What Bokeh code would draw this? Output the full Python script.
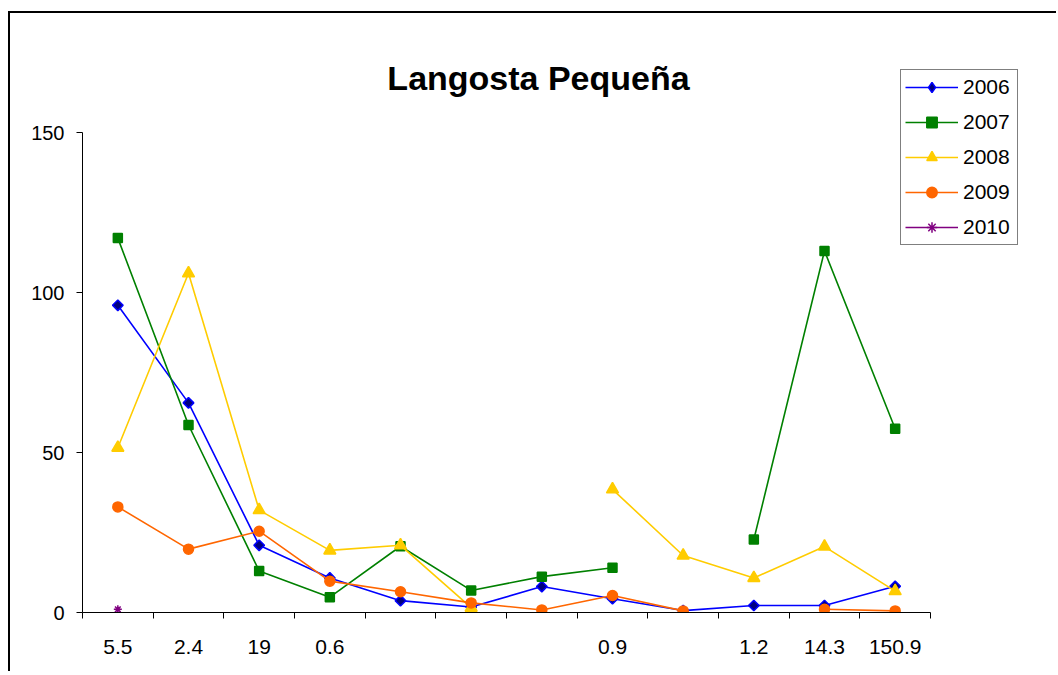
import numpy as np
from bokeh.plotting import figure
from bokeh.models import (Range1d, FixedTicker, Legend, LegendItem, Label, ColumnDataSource)
from bokeh.embed import file_html
from bokeh.resources import INLINE

nan = float("nan")

categories = ["5.5", "2.4", "19", "0.6", "", "", "", "0.9", "", "1.2", "14.3", "150.9"]
y2006 = [96, 65.5, 21, 10.8, 3.7, 1.7, 8.1, 4.3, 0.6, 2.2, 2.2, 8.2]
y2007 = [117, 58.6, 13, 4.8, 20.7, 6.9, 11.2, 14, nan, 22.8, 113, 57.4]
y2008 = [51.5, 106, 32, 19.4, 21, 1.5, nan, 38.5, 17.8, 10.8, 20.6, 6.7]
y2009 = [33, 19.8, 25.4, 9.8, 6.5, 3.0, 0.8, 5.3, 0.5, nan, 1.0, 0.5]
y2010 = [1, nan, nan, nan, nan, nan, nan, nan, nan, nan, nan, nan]
title_text = "Langosta Pequeña"
series_names = ["2006", "2007", "2008", "2009", "2010"]
y_ticks = [0, 50, 100, 150]

FONT = "Liberation Sans"
n = len(categories)
xs = list(range(1, n + 1))

# layout (pixels)
CANVAS_W, CANVAS_H = 1048, 660
AXIS_W = 848          # width of the category axis
AXIS_H = 480          # height of the value axis (0..150)
FRAME_L, FRAME_T = 72, 39
FRAME_W, FRAME_H = 958, 560
ppx = AXIS_W / n                      # px per category
ppy = AXIS_H / y_ticks[-1]            # px per unit
x_end = 0.5 + FRAME_W / ppx
y_end = FRAME_H / ppy

p = figure(width=CANVAS_W, height=CANVAS_H, output_backend="svg", toolbar_location=None,
           x_range=Range1d(0.5, x_end), y_range=Range1d(0, y_end),
           min_border_left=FRAME_L, min_border_right=CANVAS_W - FRAME_L - FRAME_W,
           min_border_top=FRAME_T, min_border_bottom=CANVAS_H - FRAME_T - FRAME_H)
p.styles = {"border-left": "2px solid black", "border-top": "2px solid black",
            "margin-top": "11px", "margin-left": "8px"}
p.outline_line_color = None
p.xgrid.grid_line_color = None
p.ygrid.grid_line_color = None
p.background_fill_color = "white"
p.border_fill_color = "white"

# x axis
p.xaxis.bounds = (0.5, n + 0.5)
p.xaxis.ticker = FixedTicker(ticks=xs, minor_ticks=[x - 0.5 for x in xs] + [xs[-1] + 0.5])
p.xaxis.major_label_overrides = {x: c for x, c in zip(xs, categories)}
p.xaxis.major_tick_out = 0
p.xaxis.major_tick_in = 0
p.xaxis.minor_tick_out = 6
p.xaxis.minor_tick_in = 0
p.xaxis.minor_tick_line_color = "black"
p.xaxis.major_label_standoff = 21
p.xaxis.major_label_text_font = FONT
p.xaxis.major_label_text_font_size = "21px"
p.xaxis.major_label_text_color = "black"
p.xaxis.axis_line_color = "black"

# y axis
p.yaxis.bounds = (y_ticks[0], y_ticks[-1])
p.yaxis.ticker = FixedTicker(ticks=y_ticks)
p.yaxis.major_tick_out = 6
p.yaxis.major_tick_in = 0
p.yaxis.minor_tick_line_color = None
p.yaxis.major_label_standoff = 12
p.yaxis.major_label_text_font = FONT
p.yaxis.major_label_text_font_size = "20px"
p.yaxis.major_label_text_color = "black"
p.yaxis.axis_line_color = "black"

styles = [
    dict(y=y2006, color="#0000FF", marker="square", fill="#000080", size=7.5, angle=np.pi / 4,
         legend_marker="diamond", legend_size=14),
    dict(y=y2007, color="#008000", marker="square", fill="#008000", size=9, angle=0),
    dict(y=y2008, color="#FFCC00", marker="triangle", fill="#FFCC00", size=12, angle=0),
    dict(y=y2009, color="#FF6600", marker="circle", fill="#FF6600", size=10, angle=0),
    dict(y=y2010, color="#800080", marker="asterisk", fill="#800080", size=8, angle=0),
]

items = []
for name, s in zip(series_names, styles):
    src = ColumnDataSource(dict(x=xs, y=s["y"]))
    ln = p.line("x", "y", source=src, line_color=s["color"], line_width=1.6)
    sc = p.scatter("x", "y", source=src, marker=s["marker"], size=s["size"], angle=s["angle"],
                   fill_color=s["fill"], line_color=s["color"], line_width=1.5)
    if "legend_marker" in s:
        # legend-only swatch (rotated markers are drawn unrotated in legends)
        sw = p.scatter(x=[nan], y=[nan], marker=s["legend_marker"], size=s["legend_size"],
                       fill_color=s["fill"], line_color=s["color"], line_width=1.5)
        items.append(LegendItem(label=name, renderers=[ln, sw]))
    else:
        items.append(LegendItem(label=name, renderers=[ln, sc]))

# legend: left edge 818 px right of the axis origin, bottom 367 px above it
legend = Legend(items=items, location=(818, 367), orientation="vertical",
                label_text_font=FONT, label_text_font_size="21px", label_text_color="black",
                glyph_width=53, glyph_height=26, label_height=20, label_width=50,
                label_standoff=5, spacing=9, padding=4, margin=0,
                border_line_color="black", border_line_width=1.2,
                background_fill_color="white", background_fill_alpha=1)
p.add_layout(legend, "center")

# title: centred 456 px right of the axis origin, baseline ~535 px above it
title = Label(x=0.5 + 456 / ppx, y=535 / ppy, text=title_text,
              text_font=FONT, text_font_size="34px", text_font_style="bold",
              text_align="center", text_baseline="alphabetic", text_color="black")
p.add_layout(title)

open("out.html", "w").write(file_html(p, INLINE))
